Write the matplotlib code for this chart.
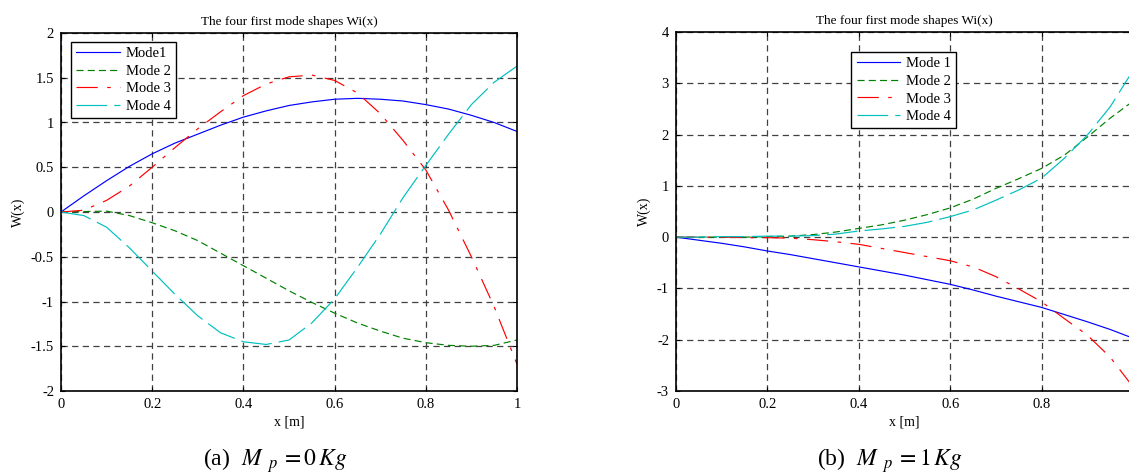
import matplotlib
matplotlib.use('Agg')
import matplotlib.pyplot as plt

# x positions (m) where the mode shapes were read
x = [0, .05, .1, .15, .2, .25, .3, .35, .4, .45, .5,
     .55, .6, .65, .7, .75, .8, .85, .9, .95, 1.0]

# (a) Mp = 0 Kg
mode1_a = [0, 0.18, 0.35, 0.51, 0.65, 0.77, 0.87, 0.97, 1.06, 1.13, 1.19,
           1.23, 1.26, 1.27, 1.26, 1.24, 1.20, 1.15, 1.08, 1.00, 0.90]
mode2_a = [0, 0.005, 0.01, -0.04, -0.12, -0.21, -0.32, -0.46, -0.60, -0.74, -0.88,
           -1.01, -1.13, -1.24, -1.33, -1.41, -1.46, -1.49, -1.50, -1.49, -1.43]
mode3_a = [0, 0.02, 0.13, 0.29, 0.50, 0.72, 0.93, 1.12, 1.30, 1.43, 1.51,
           1.53, 1.47, 1.33, 1.10, 0.80, 0.47, 0.02, -0.50, -1.06, -1.70]
mode4_a = [0, -0.04, -0.17, -0.40, -0.66, -0.92, -1.16, -1.35, -1.45, -1.48, -1.43,
           -1.24, -0.97, -0.62, -0.25, 0.16, 0.52, 0.87, 1.20, 1.45, 1.63]

# (b) Mp = 1 Kg
mode1_b = [0, -0.06, -0.12, -0.19, -0.27, -0.34, -0.42, -0.50, -0.58, -0.66, -0.74,
           -0.83, -0.92, -1.03, -1.15, -1.26, -1.37, -1.51, -1.65, -1.80, -1.97]
mode2_b = [0, 0, 0, 0, 0.01, 0.02, 0.05, 0.10, 0.17, 0.24, 0.33,
           0.44, 0.57, 0.74, 0.95, 1.14, 1.34, 1.60, 1.95, 2.32, 2.65]
mode3_b = [0, 0, 0, -0.01, -0.01, -0.02, -0.05, -0.09, -0.14, -0.22, -0.30,
           -0.38, -0.46, -0.58, -0.77, -1.01, -1.26, -1.59, -1.91, -2.34, -2.92]
mode4_b = [0, 0, 0.01, 0.01, 0.02, 0.02, 0.03, 0.06, 0.12, 0.16, 0.21,
           0.29, 0.40, 0.53, 0.72, 0.92, 1.15, 1.54, 1.99, 2.54, 3.25]

labels_a = ['Mode1', 'Mode 2', 'Mode 3', 'Mode 4']
labels_b = ['Mode 1', 'Mode 2', 'Mode 3', 'Mode 4']

xticks = [0, 0.2, 0.4, 0.6, 0.8, 1]
xticklabels_a = ['0', '0.2', '0.4', '0.6', '0.8', '1']
xticklabels_b = ['0', '0.2', '0.4', '0.6', '0.8', '']   # "1" falls off the picture

plt.rcParams['font.family'] = ['Liberation Serif', 'DejaVu Serif']
plt.rcParams['mathtext.fontset'] = 'stix'

colors = ['#0000ff', '#008000', '#ff0000', '#00bfbf']
styles = [dict(linestyle='-'),
          dict(dashes=(6, 3.5)),
          dict(dashes=(18, 8, 3, 8)),
          dict(dashes=(26, 6))]


def draw(ax, curves, labels, xtl, ylim, yticks, legend_pos):
    for ys, lab, c, st in zip(curves, labels, colors, styles):
        ax.plot(x, ys, color=c, linewidth=0.85, label=lab, **st)
    ax.set_xlim(0, 1)
    ax.set_ylim(*ylim)
    ax.set_xticks(xticks)
    ax.set_xticklabels(xtl)
    ax.set_yticks(yticks)
    ax.set_yticklabels([('%g' % t) for t in yticks])
    ax.grid(True, color='0.25', linewidth=0.9, dashes=(5, 3.5))
    ax.tick_params(direction='in', top=True, right=True, length=3,
                   labelsize=10.5, pad=5)
    for sp in ax.spines.values():
        sp.set_linewidth(1.2)
    ax.set_title('The four first mode shapes Wi(x)', fontsize=9.5, pad=6)
    ax.set_xlabel('x [m]', fontsize=10, labelpad=3)
    ax.set_ylabel('W(x)', fontsize=10, labelpad=4)
    leg = ax.legend(loc='upper left', bbox_to_anchor=legend_pos, borderaxespad=0,
                    fontsize=10.5, handlelength=3.0, handletextpad=0.4,
                    labelspacing=0.3, borderpad=0.35, fancybox=False,
                    framealpha=1, edgecolor='black')
    leg.get_frame().set_linewidth(1.0)


fig = plt.figure(figsize=(11.29, 4.73), dpi=100)
ax1 = fig.add_axes([61 / 1129, 82 / 473, 456 / 1129, 358 / 473])
ax2 = fig.add_axes([676 / 1129, 82 / 473, 457 / 1129, 359 / 473])

draw(ax1, [mode1_a, mode2_a, mode3_a, mode4_a], labels_a, xticklabels_a, (-2, 2),
     [-2, -1.5, -1, -0.5, 0, 0.5, 1, 1.5, 2], (0.022, 0.975))
draw(ax2, [mode1_b, mode2_b, mode3_b, mode4_b], labels_b, xticklabels_b, (-3, 4),
     [-3, -2, -1, 0, 1, 2, 3, 4], (0.384, 0.944))

fig.text(275 / 1129, 0.026, r'(a)  $M_{\ \ p}\,=0\,Kg$', ha='center', va='center', fontsize=17)
fig.text(890 / 1129, 0.026, r'(b)  $M_{\ \ p}\,=1\,Kg$', ha='center', va='center', fontsize=17)

fig.savefig('out.png', dpi=100)
